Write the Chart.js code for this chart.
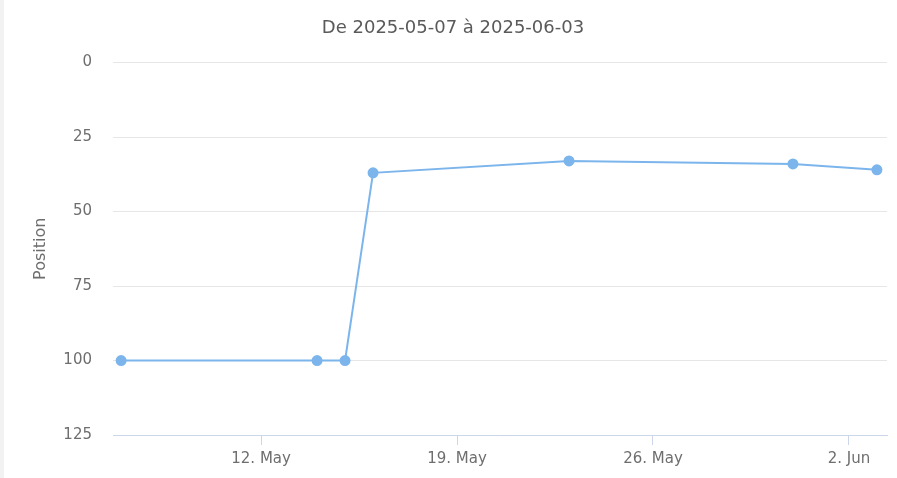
<!DOCTYPE html>
<html>
<head>
<meta charset="utf-8">
<script src="https://cdn.jsdelivr.net/npm/chart.js@4"></script>
<style>
  html, body { margin: 0; padding: 0; background: #fff; }
  #wrap { width: 897px; height: 478px; position: relative; }
  #edge { position: absolute; left: 0; top: 0; width: 4px; height: 478px; background: #f2f2f2; }
</style>
</head>
<body>
<div id="wrap">
  <div id="edge"></div>
  <canvas id="chart" width="897" height="478"></canvas>
</div>
<script>
// dates du relevé et positions
const dates = ["2025-05-07", "2025-05-14", "2025-05-15", "2025-05-16", "2025-05-23", "2025-05-31", "2025-06-03"];
const positions = [100, 100, 100, 37, 33, 34, 36];

// graduations de l'axe X
const tickDates = ["2025-05-12", "2025-05-19", "2025-05-26", "2025-06-02"];
const tickLabels = ["12. May", "19. May", "26. May", "2. Jun"];

const yTicks = [0, 25, 50, 75, 100, 125];

const startDay = Date.UTC(2025, 4, 7);
function dayIndex(s) {
    const p = s.split("-");
    return (Date.UTC(+p[0], +p[1] - 1, +p[2]) - startDay) / 86400000;
}

const points = dates.map(function(d, i) {
    return { x: dayIndex(d), y: positions[i] };
});
const tickDays = tickDates.map(dayIndex);

const font = "'DejaVu Sans', sans-serif";

new Chart(document.getElementById("chart").getContext("2d"), {
    type: "line",
    data: {
        datasets: [{
            data: points,
            borderColor: "#7cb5ec",
            backgroundColor: "#7cb5ec",
            borderWidth: 2,
            pointRadius: 4.5,
            pointHoverRadius: 5,
            tension: 0
        }]
    },
    options: {
        responsive: false,
        animation: false,
        layout: { padding: { left: 19, right: 10, top: 0, bottom: 0 } },
        plugins: {
            legend: { display: false },
            tooltip: { enabled: false },
            title: {
                display: true,
                text: "De " + dates[0] + " à " + dates[dates.length - 1],
                color: "#5a5a5a",
                font: { family: font, size: 18, weight: "normal" },
                padding: { top: 18, bottom: 23 }
            }
        },
        scales: {
            x: {
                type: "linear",
                min: -0.29,
                max: 27.36,
                afterFit: function(scale) { scale.height = 43; },
                afterBuildTicks: function(scale) {
                    scale.ticks = tickDays.map(function(v) { return { value: v }; });
                },
                ticks: {
                    color: "#6e6e6e",
                    font: { family: font, size: 15 },
                    padding: 5,
                    maxRotation: 0,
                    autoSkip: false,
                    callback: function(v) {
                        const i = tickDays.indexOf(v);
                        return i >= 0 ? tickLabels[i] : "";
                    }
                },
                grid: {
                    drawOnChartArea: false,
                    drawTicks: true,
                    tickLength: 10,
                    color: "#ccd6eb"
                },
                border: { color: "#ccd6eb", width: 1 }
            },
            y: {
                reverse: true,
                min: 0,
                max: 125,
                afterFit: function(scale) { scale.width = 94; },
                afterBuildTicks: function(scale) {
                    scale.ticks = yTicks.map(function(v) { return { value: v }; });
                },
                ticks: {
                    color: "#6e6e6e",
                    font: { family: font, size: 15 },
                    padding: 21
                },
                grid: { color: "#e6e6e6", drawTicks: false },
                border: { display: false },
                title: {
                    display: true,
                    text: "Position",
                    color: "#6e6e6e",
                    font: { family: font, size: 16 },
                    padding: { top: 12, bottom: 0 }
                }
            }
        }
    }
});
</script>
</body>
</html>
